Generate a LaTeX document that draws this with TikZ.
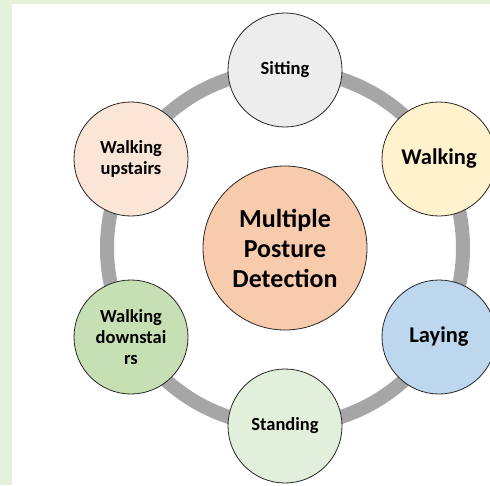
\documentclass[tikz,border=0pt]{standalone}
\usepackage{fontspec}
\setmainfont{Carlito}
\usepackage{xcolor}

\definecolor{bggreen}{HTML}{E4F1DB}
\definecolor{ringgray}{HTML}{A6A6A6}
\definecolor{sitfill}{HTML}{EDEDED}
\definecolor{walkfill}{HTML}{FFF2CC}
\definecolor{layfill}{HTML}{BDD7EE}
\definecolor{standfill}{HTML}{E2EFDA}
\definecolor{downfill}{HTML}{C6E0B4}
\definecolor{upfill}{HTML}{FBE5D6}
\definecolor{hubfill}{HTML}{F8CBAD}

\tikzset{
  posture/.style={circle, draw=black!85, line width=0.8pt, minimum size=114pt,
    inner sep=0pt, align=center, font=\bfseries\fontsize{18.5}{21}\selectfont},
  bigposture/.style={posture, font=\bfseries\fontsize{22.5}{26}\selectfont},
  hub/.style={circle, draw=black!85, line width=0.8pt, minimum size=164pt,
    inner sep=0pt, align=center, fill=hubfill,
    font=\bfseries\fontsize{26}{30}\selectfont}
}

\begin{document}
\begin{tikzpicture}[x=1pt,y=-1pt]
    \useasboundingbox (0,0) rectangle (490,485);
    % Page background
    \fill[bggreen] (0,0) rectangle (490,485);
    \fill[white] (12,4) rectangle (490,485);
    % Ring
    \draw[ringgray, line width=14pt] (285,248) circle[radius=178];
    % Posture circles
    \node[hub] (hub) at (285,248) {Multiple\\Posture\\Detection};
    \node[posture, fill=sitfill] (sitting) at (285,70) {Sitting};
    \node[bigposture, fill=walkfill] (walking) at (439,159) {Walking};
    \node[bigposture, fill=layfill] (laying) at (439,337) {Laying};
    \node[posture, fill=standfill] (standing) at (285,426) {Standing};
    \node[posture, fill=downfill] (down) at (131,337) {Walking\\downstai\\rs};
    \node[posture, fill=upfill] (up) at (131,159) {Walking\\upstairs};
\end{tikzpicture}
\end{document}
